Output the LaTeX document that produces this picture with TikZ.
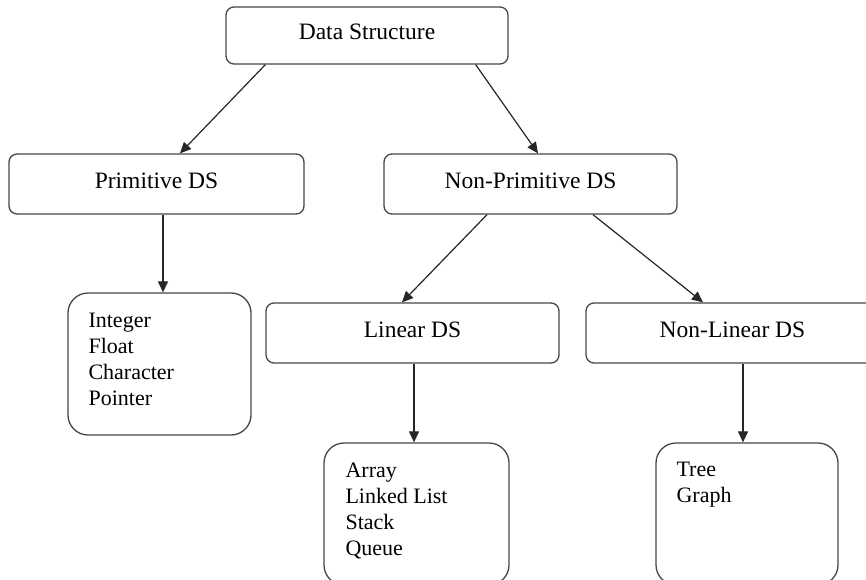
\documentclass[tikz,border=0pt]{standalone}
\usepackage{fontspec}
\setmainfont{Liberation Serif}
\usetikzlibrary{arrows.meta,calc}
\tikzset{
  titlebox/.style={draw=black!72, line width=1.3pt, rounded corners=8pt, fill=white,
    minimum height=60pt, inner sep=0pt, font=\fontsize{23.5}{26}\selectfont,
    text height=16pt, text depth=8pt},
  listbox/.style={draw=black!72, line width=1.3pt, rounded corners=20pt,
    minimum width=183pt, minimum height=142pt, inner sep=0pt},
  listtext/.style={anchor=north west, inner sep=0pt, align=left,
    font=\fontsize{22}{26}\selectfont},
  arr/.style={draw=black!85, line width=1.2pt, -{Triangle[length=11pt,width=10pt]}}
}
\begin{document}
\begin{tikzpicture}[x=1pt,y=-1pt]
\useasboundingbox (0,0) rectangle (866,580);
\clip (0,0) rectangle (866,580);
\fill[white] (0,0) rectangle (866,580);
% title boxes
\node[titlebox, minimum width=282pt, minimum height=57pt] (ds) at (367,35.5) {Data Structure};
\node[titlebox, minimum width=295pt] (prim) at (156.5,184) {Primitive DS};
\node[titlebox, minimum width=293pt] (nonprim) at (530.5,184) {Non-Primitive DS};
\node[titlebox, minimum width=293pt] (lin) at (412.5,333) {Linear DS};
\node[titlebox, minimum width=293pt] (nonlin) at (732.5,333) {Non-Linear DS};
% list boxes
\node[listbox] (ilist) at (159.5,364) {};
\node[listbox, minimum width=185pt] (alist) at (416.5,514) {};
\node[listbox, minimum width=182pt] (tlist) at (747,514) {};
\node[listtext] (itext) at ($(ilist.north west)+(21,21)$) {Integer\\Float\\Character\\Pointer};
\node[listtext] (atext) at ($(alist.north west)+(22,20)$) {Array\\Linked List\\Stack\\Queue};
\node[listtext] (ttext) at ($(tlist.north west)+(21,20)$) {Tree\\Graph};
% connectors
\draw[arr] ([xshift=40pt]ds.south west) -- ([xshift=23.5pt]prim.north);
\draw[arr] ([xshift=-33pt]ds.south east) -- ([xshift=7.5pt]nonprim.north);
\draw[arr] ([xshift=6.5pt]prim.south) -- ([xshift=3.5pt]ilist.north);
\draw[arr] ([xshift=-43.5pt]nonprim.south) -- ([xshift=-10.5pt]lin.north);
\draw[arr] ([xshift=62.5pt]nonprim.south) -- ([xshift=-29.5pt]nonlin.north);
\draw[arr] ([xshift=1.5pt]lin.south) -- ([xshift=-2.5pt]alist.north);
\draw[arr] ([xshift=10.5pt]nonlin.south) -- ([xshift=-4pt]tlist.north);
\end{tikzpicture}
\end{document}
